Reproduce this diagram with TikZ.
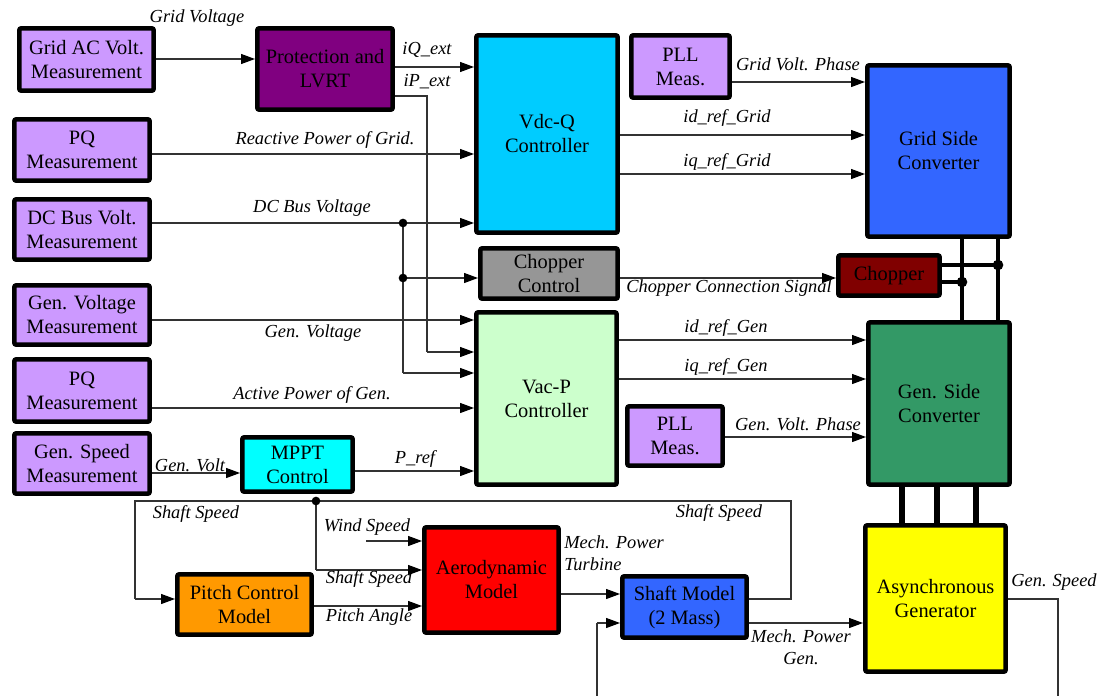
\documentclass[tikz,border=0pt]{standalone}
\usepackage{fontspec}
\setmainfont{Liberation Serif}
\usetikzlibrary{arrows.meta}
\definecolor{meas}{RGB}{204,153,255}
\definecolor{protc}{RGB}{128,0,128}
\definecolor{vdcqc}{RGB}{0,204,255}
\definecolor{gridc}{RGB}{51,102,255}
\definecolor{chopcc}{RGB}{150,150,150}
\definecolor{chopc}{RGB}{128,0,0}
\definecolor{vacpc}{RGB}{204,255,204}
\definecolor{gensc}{RGB}{51,153,102}
\definecolor{mpptc}{RGB}{0,255,255}
\definecolor{pitchc}{RGB}{255,153,0}
\definecolor{aeroc}{RGB}{255,0,0}
\definecolor{asyncc}{RGB}{255,255,0}
\definecolor{wirec}{RGB}{50,50,50}
\tikzset{
  box/.style={draw=black,line width=3.5pt,rounded corners=1.5pt,inner sep=0pt,align=center,
    font=\fontsize{15.3}{18}\selectfont},
  lab/.style={font=\fontsize{13.8}{16.5}\selectfont\itshape,inner sep=0pt},
  wire/.style={draw=wirec,line width=0.9pt},
  arr/.style={wire,-{Triangle[length=10.5pt,width=7.5pt,color=black]}},
  bus/.style={draw=black,line width=3.2pt},
  jdot/.style={circle,fill=black,inner sep=0pt,minimum size=6.5pt}
}
\newcommand{\bx}[7]{\node[box,fill=#2,minimum width={(#5-#3-4.7)*0.75pt},minimum height={(#6-#4-4.7)*0.75pt}] (#1) at ({(#3+#5)/2},{(#4+#6)/2}) {#7};}
\begin{document}
\begin{tikzpicture}[x=0.75pt,y=-0.75pt]
\useasboundingbox (0,0) rectangle (1100,696);
% boxes
\bx{gridac}{meas}{17}{26}{156}{93}{Grid AC Volt.\\Measurement}
\bx{prot}{protc}{255}{26}{395}{112}{Protection and\\LVRT}
\bx{pqa}{meas}{12}{117}{152}{183}{PQ\\Measurement}
\bx{dcbus}{meas}{12}{197}{152}{262}{DC Bus Volt.\\Measurement}
\bx{genv}{meas}{12}{283}{152}{347}{Gen. Voltage\\Measurement}
\bx{pqb}{meas}{12}{357}{152}{424}{PQ\\Measurement}
\bx{gensp}{meas}{12}{431}{152}{496}{Gen. Speed\\Measurement}
\bx{vdcq}{vdcqc}{474}{33}{620}{235}{Vdc-Q\\Controller}
\bx{plla}{meas}{629}{33}{732}{100}{PLL\\Meas.}
\bx{grid}{gridc}{865}{63}{1012}{239}{Grid Side\\Converter}
\bx{chopctl}{chopcc}{478}{246}{620}{301}{Chopper\\Control}
\bx{chop}{chopc}{836}{253}{942}{298}{Chopper}
\bx{vacp}{vacpc}{474}{310}{619}{487}{Vac-P\\Controller}
\bx{pllb}{meas}{625}{404}{725}{468}{PLL\\Meas.}
\bx{gens}{gensc}{866}{320}{1012}{487}{Gen. Side\\Converter}
\bx{mppt}{mpptc}{240}{435}{355}{494}{MPPT\\Control}
\bx{pitch}{pitchc}{175}{572}{314}{637}{Pitch Control\\Model}
\bx{aero}{aeroc}{422}{525}{561}{635}{Aerodynamic\\Model}
\bx{shaft}{gridc}{620}{574}{749}{640}{Shaft Model\\(2 Mass)}
\bx{async}{asyncc}{863}{523}{1008}{674}{Asynchronous\\Generator}
% junction / corner coordinates
\coordinate (d1) at (403,223);
\coordinate (d2) at (403,278);
\coordinate (d3) at (403,373);
\coordinate (ipc) at (427,96);
\coordinate (ipd) at (427,352);
\coordinate (ssa) at (791,599);
\coordinate (ssb) at (791,501);
\coordinate (ssc) at (135,501);
\coordinate (ssd) at (135,599);
\coordinate (ds) at (316,501);
\coordinate (dse) at (316,570);
\coordinate (ws) at (366,541);
\coordinate (fbb) at (597,696);
\coordinate (fbc) at (597,623);
\coordinate (gsa) at (1058,599);
\coordinate (gsb) at (1058,696);
\coordinate (b1) at (962,282);
\coordinate (b2) at (998,265);
% top connectors
\draw[arr] (gridac.east |- 0,59) -- (prot.west |- 0,59);
\draw[arr] (prot.east |- 0,67) -- (vdcq.west |- 0,67);
\draw[wire] (prot.east |- 0,96) -- (ipc) -- (ipd);
\draw[arr] (ipd) -- (vacp.west |- 0,352);
\draw[arr] (pqa.east |- 0,154) -- (vdcq.west |- 0,154);
\draw[arr] (dcbus.east |- 0,223) -- (vdcq.west |- 0,223);
\draw[wire] (d1) -- (d3);
\draw[arr] (d2) -- (chopctl.west |- 0,278);
\draw[arr] (d3) -- (vacp.west |- 0,373);
\node[jdot] (j1) at (d1) {};
\node[jdot] (j2) at (d2) {};
\draw[arr] (plla.east |- 0,82) -- (grid.west |- 0,82);
\draw[arr] (vdcq.east |- 0,135) -- (grid.west |- 0,135);
\draw[arr] (vdcq.east |- 0,174) -- (grid.west |- 0,174);
\draw[arr] (chopctl.east |- 0,278) -- (chop.west |- 0,278);
% buses
\draw[bus] (grid.south -| 962,0) -- (gens.north -| 962,0);
\draw[bus] (grid.south -| 998,0) -- (gens.north -| 998,0);
\draw[bus] (chop.east |- 0,265) -- (b2);
\draw[bus] (chop.east |- 0,282) -- (b1);
\node[jdot,minimum size=8pt] (j3) at (b1) {};
\node[jdot,minimum size=8pt] (j4) at (b2) {};
\draw[bus,line width=3.8pt] (gens.south -| 902,0) -- (async.north -| 902,0);
\draw[bus,line width=3.8pt] (gens.south -| 937,0) -- (async.north -| 937,0);
\draw[bus,line width=3.8pt] (gens.south -| 976,0) -- (async.north -| 976,0);
% middle connectors
\draw[arr] (genv.east |- 0,320) -- (vacp.west |- 0,320);
\draw[arr] (pqb.east |- 0,408) -- (vacp.west |- 0,408);
\draw[arr] (gensp.east |- 0,473) -- (mppt.west |- 0,473);
\draw[arr] (mppt.east |- 0,471) -- (vacp.west |- 0,471);
\draw[arr] (vacp.east |- 0,340) -- (gens.west |- 0,340);
\draw[arr] (vacp.east |- 0,379) -- (gens.west |- 0,379);
\draw[arr] (pllb.east |- 0,437) -- (gens.west |- 0,437);
% bottom connectors
\draw[wire] (shaft.east |- 0,599) -- (ssa) -- (ssb) -- (ssc) -- (ssd);
\draw[arr] (ssd) -- (pitch.west |- 0,599);
\draw[wire] (ds) -- (dse);
\draw[arr] (dse) -- (aero.west |- 0,570);
\node[jdot] (j5) at (ds) {};
\draw[arr] (ws) -- (aero.west |- 0,541);
\draw[arr] (pitch.east |- 0,606) -- (aero.west |- 0,606);
\draw[arr] (aero.east |- 0,594) -- (shaft.west |- 0,594);
\draw[wire] (fbb) -- (fbc);
\draw[arr] (fbc) -- (shaft.west |- 0,623);
\draw[arr] (shaft.east |- 0,623) -- (async.west |- 0,623);
\draw[wire] (async.east |- 0,599) -- (gsa) -- (gsb);
% labels
\node[lab] (l1) at (197,18) {Grid Voltage};
\node[lab] (l2) at (427,50) {iQ\_ext};
\node[lab] (l3) at (427,82) {iP\_ext};
\node[lab] (l4) at (325,140) {Reactive Power of Grid.};
\node[lab] (l5) at (312,208) {DC Bus Voltage};
\node[lab] (l6) at (798,64) {Grid Volt. Phase};
\node[lab] (l7) at (727,118) {id\_ref\_Grid};
\node[lab] (l8) at (727,162) {iq\_ref\_Grid};
\node[lab] (l9) at (729,288) {Chopper Connection Signal};
\node[lab] (l10) at (313,333) {Gen. Voltage};
\node[lab] (l11) at (312,395) {Active Power of Gen.};
\node[lab] (l12) at (190,465) {Gen. Volt};
\node[lab] (l13) at (415,459) {P\_ref};
\node[lab] (l14) at (726,328) {id\_ref\_Gen};
\node[lab] (l15) at (726,367) {iq\_ref\_Gen};
\node[lab] (l16) at (798,424) {Gen. Volt. Phase};
\node[lab] (l17) at (196,514) {Shaft Speed};
\node[lab] (l18) at (367,527) {Wind Speed};
\node[lab] (l19) at (369,579) {Shaft Speed};
\node[lab] (l20) at (369,617) {Pitch Angle};
\node[lab,anchor=west,align=left] (l21) at (564,553) {Mech. Power\\Turbine};
\node[lab] (l22) at (719,513) {Shaft Speed};
\node[lab,align=center] (l23) at (801,647) {Mech. Power\\Gen.};
\node[lab] (l24) at (1054,582) {Gen. Speed};
\end{tikzpicture}
\end{document}
